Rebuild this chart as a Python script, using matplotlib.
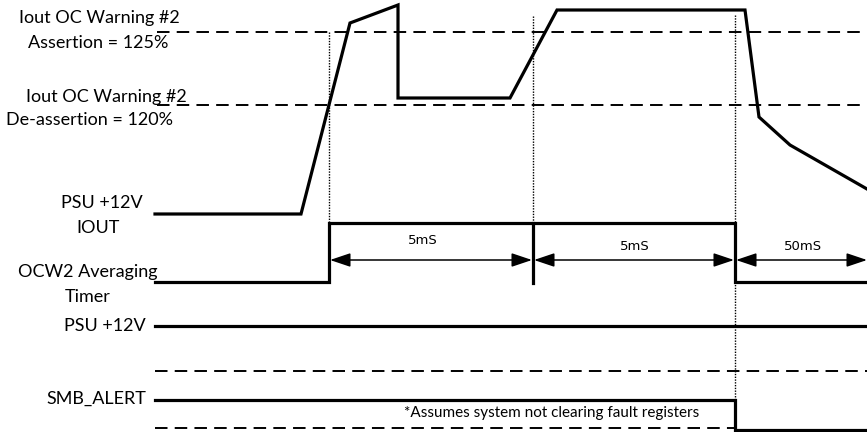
import matplotlib
matplotlib.use("Agg")
import matplotlib.pyplot as plt

plt.rcParams['lines.scale_dashes'] = False

# ---- data (diagram units: x = time position, y = vertical level) ----
iout_t = [155, 301, 350, 398, 398, 510, 557, 745, 759, 790, 867]
iout_v = [214, 214, 23, 5, 98, 98, 10, 10, 117, 145, 189]

assert_level = 32
deassert_level = 105

timer_t = [155, 329, 329, 735, 735, 867]
timer_v = [282, 282, 223, 223, 282, 282]
timer_tick_t = 533
timer_tick_v = [223, 283]

psu_t = [155, 867]
psu_v = 326
psu_dash_v = 371

smb_t = [155, 735, 735, 867]
smb_v = [400, 400, 430, 430]
smb_dash_v = 428
smb_dash_t = [155, 735]

markers_t = [329, 533, 735]
markers_top = [32, 16, 15]
markers_bottom = [223, 223, 432]

interval_edges = [329, 533, 735, 868]
interval_labels = ["5mS", "5mS", "50mS"]
interval_label_x = [423, 635, 803]
interval_label_y = [241, 247, 246]
arrow_y = 260

left_labels = [
    ("Iout OC Warning #2", 99, 18, 'center'),
    ("Assertion = 125%", 98, 43, 'center'),
    ("Iout OC Warning #2", 106, 97, 'center'),
    ("De-assertion = 120%", 89, 120, 'center'),
    ("PSU +12V", 102, 203, 'center'),
    ("IOUT", 98, 228, 'center'),
    ("OCW2 Averaging", 88, 272, 'center'),
    ("Timer", 88, 297, 'center'),
    ("PSU +12V", 146, 326, 'right'),
    ("SMB_ALERT", 146, 399, 'right'),
]
note_text = "*Assumes system not clearing fault registers"

# ---- figure ----
W, H = 867, 432
fig = plt.figure(figsize=(W / 100, H / 100), dpi=100)
ax = fig.add_axes([0, 0, 1, 1])
ax.set_xlim(0, W)
ax.set_ylim(H, 0)
ax.axis('off')

solid_lw = 2.3
dash_lw = 1.4
dash_pat = (9.0, 5.2)

# threshold dashed lines
for lvl in (assert_level, deassert_level):
    ax.plot([157, W], [lvl, lvl], color='black', lw=dash_lw, dashes=dash_pat)

# dotted marker lines
for t, top, bot in zip(markers_t, markers_top, markers_bottom):
    ax.plot([t, t], [top, bot], color='black', lw=1.0, dashes=(1.0, 1.0), zorder=1)

# IOUT waveform
ax.plot(iout_t, iout_v, color='black', lw=solid_lw, solid_joinstyle='miter', zorder=3)

# averaging timer
ax.plot(timer_t, timer_v, color='black', lw=solid_lw, solid_joinstyle='miter', zorder=3)
ax.plot([timer_tick_t, timer_tick_t], timer_tick_v, color='black', lw=solid_lw, zorder=3)

# interval arrows
for i in range(len(interval_labels)):
    a, b = interval_edges[i], interval_edges[i + 1]
    ax.annotate('', xy=(a + 1, arrow_y), xytext=(b - 1, arrow_y),
                arrowprops=dict(arrowstyle='<|-|>,head_length=1.25,head_width=0.42',
                                color='black', lw=1.1, shrinkA=0, shrinkB=0))
    ax.text(interval_label_x[i], interval_label_y[i], interval_labels[i],
            ha='center', va='center', fontsize=9.5, family='DejaVu Sans')

# PSU +12V
ax.plot(psu_t, [psu_v, psu_v], color='black', lw=solid_lw)
ax.plot(psu_t, [psu_dash_v, psu_dash_v], color='black', lw=dash_lw, dashes=dash_pat)

# SMB_ALERT
ax.plot(smb_t, smb_v, color='black', lw=solid_lw, solid_joinstyle='miter')
ax.plot(smb_dash_t, [smb_dash_v, smb_dash_v], color='black', lw=dash_lw, dashes=dash_pat)

# labels
for txt, x, y, ha in left_labels:
    ax.text(x, y, txt, ha=ha, va='center', fontsize=13, family='Lato')
ax.text(552, 413, note_text, ha='center', va='center', fontsize=11, family='Lato')

fig.savefig('out.png', dpi=100)
